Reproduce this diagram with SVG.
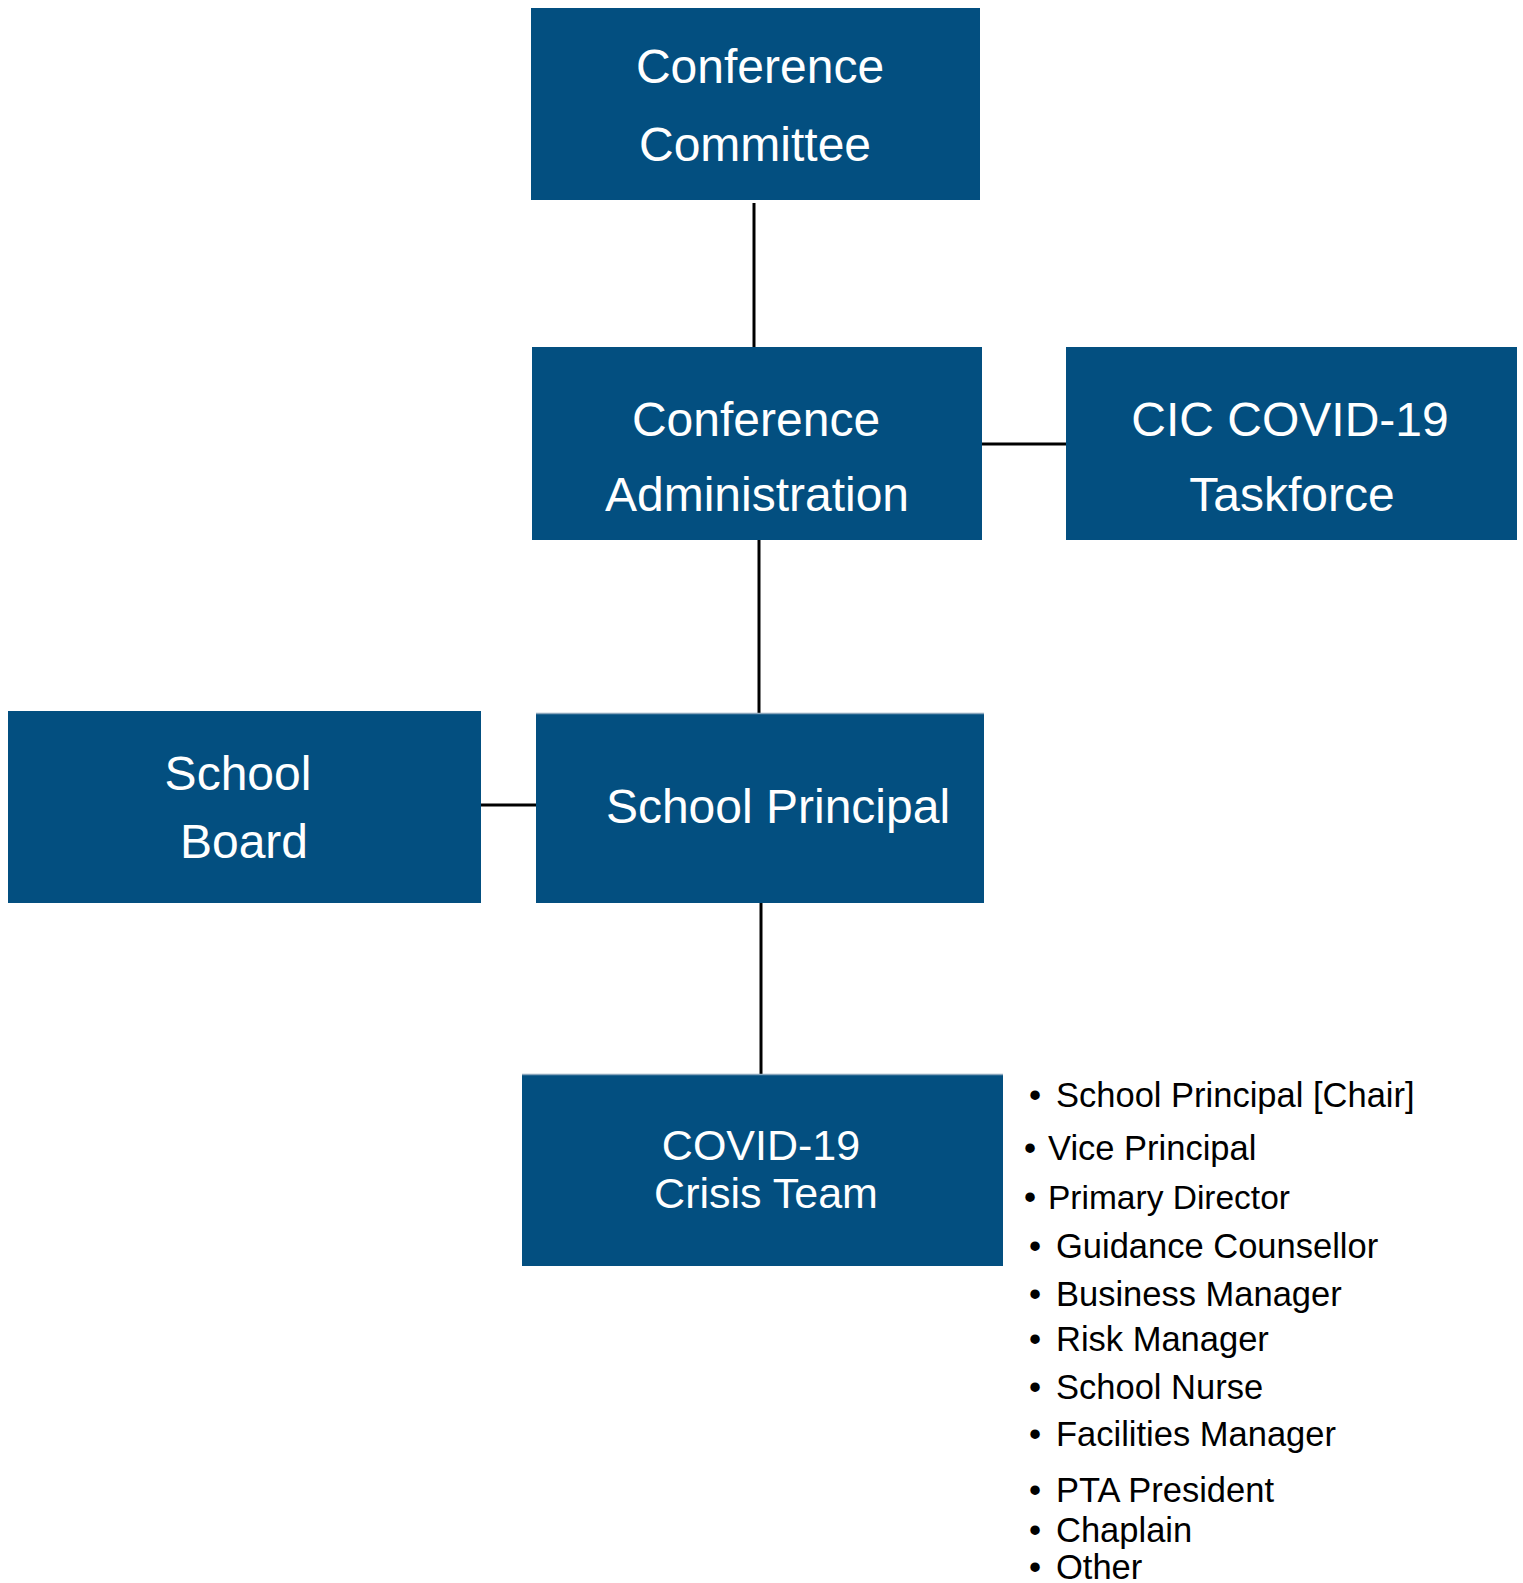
<svg xmlns="http://www.w3.org/2000/svg" width="1523" height="1583" viewBox="0 0 1523 1583">
<style>
.box{fill:#034f80}
.lbl{font-family:"Liberation Sans",Arial,sans-serif;font-size:48px;fill:#ffffff;text-anchor:middle}
.conn{stroke:#000;stroke-width:3;fill:none}
.li{font-family:"Liberation Sans",Arial,sans-serif;font-size:34.5px;fill:#000}
.edge{stroke:#8aa6bd;stroke-width:1.5}
</style>
<rect x="0" y="0" width="1523" height="1583" fill="#fff"/>
<g id="connectors">
<line class="conn" x1="754" y1="203" x2="754" y2="347"/>
<line class="conn" x1="982" y1="444" x2="1066" y2="444"/>
<line class="conn" x1="759" y1="540" x2="759" y2="713"/>
<line class="conn" x1="481" y1="805" x2="536" y2="805"/>
<line class="conn" x1="761" y1="903" x2="761" y2="1074"/>
</g>
<g id="conference-committee">
<rect class="box" x="531" y="8" width="449" height="192"/>
<text class="lbl" x="760" y="83">Conference</text>
<text class="lbl" x="755" y="161">Committee</text>
</g>
<g id="conference-administration">
<rect class="box" x="532" y="347" width="450" height="193"/>
<text class="lbl" x="756" y="436">Conference</text>
<text class="lbl" x="757" y="511">Administration</text>
</g>
<g id="cic-taskforce">
<rect class="box" x="1066" y="347" width="451" height="193"/>
<text class="lbl" x="1290" y="436">CIC COVID-19</text>
<text class="lbl" x="1292" y="511">Taskforce</text>
</g>
<g id="school-board">
<rect class="box" x="8" y="711" width="473" height="192"/>
<text class="lbl" x="238" y="790">School</text>
<text class="lbl" x="244" y="858">Board</text>
</g>
<g id="school-principal">
<rect class="box" x="536" y="713" width="448" height="190"/>
<line class="edge" x1="536" y1="713.5" x2="984" y2="713.5"/>
<text class="lbl" x="778" y="823">School Principal</text>
</g>
<g id="crisis-team">
<rect class="box" x="522" y="1074" width="481" height="192"/>
<line class="edge" x1="522" y1="1074.5" x2="1003" y2="1074.5"/>
<text class="lbl" x="761" y="1160" style="font-size:43px">COVID-19</text>
<text class="lbl" x="766" y="1208" style="font-size:43px">Crisis Team</text>
</g>
<g id="members">
<text class="li" x="1029" y="1107">•</text><text class="li" x="1056" y="1107">School Principal [Chair]</text>
<text class="li" x="1024" y="1160">•</text><text class="li" x="1048" y="1160">Vice Principal</text>
<text class="li" x="1024" y="1209">•</text><text class="li" x="1048" y="1209" style="font-size:33.5px">Primary Director</text>
<text class="li" x="1029" y="1258">•</text><text class="li" x="1056" y="1258">Guidance Counsellor</text>
<text class="li" x="1029" y="1306">•</text><text class="li" x="1056" y="1306">Business Manager</text>
<text class="li" x="1029" y="1351">•</text><text class="li" x="1056" y="1351">Risk Manager</text>
<text class="li" x="1029" y="1399">•</text><text class="li" x="1056" y="1399">School Nurse</text>
<text class="li" x="1029" y="1446">•</text><text class="li" x="1056" y="1446">Facilities Manager</text>
<text class="li" x="1029" y="1502">•</text><text class="li" x="1056" y="1502">PTA President</text>
<text class="li" x="1029" y="1542">•</text><text class="li" x="1056" y="1542">Chaplain</text>
<text class="li" x="1029" y="1579">•</text><text class="li" x="1056" y="1579">Other</text>
</g>
</svg>
